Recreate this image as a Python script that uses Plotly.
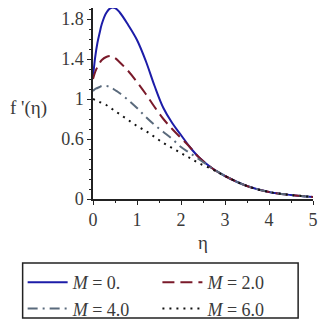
import plotly.graph_objects as go

eta = [0, 0.05, 0.1, 0.15, 0.2, 0.3, 0.4, 0.5, 0.6, 0.8, 1.0, 1.2, 1.4, 1.6, 1.8, 2.0, 2.2, 2.4, 2.7, 3.0, 3.5, 4.0, 4.5, 5.0]
f_M0 = [1.22, 1.42, 1.56, 1.66, 1.75, 1.86, 1.91, 1.91, 1.87, 1.74, 1.59, 1.38, 1.13, 0.91, 0.76, 0.64, 0.52, 0.42, 0.31, 0.23, 0.13, 0.07, 0.04, 0.02]
f_M2 = [1.20, 1.27, 1.32, 1.36, 1.39, 1.42, 1.43, 1.41, 1.37, 1.28, 1.17, 1.05, 0.92, 0.80, 0.70, 0.61, 0.52, 0.42, 0.31, 0.23, 0.13, 0.07, 0.04, 0.02]
f_M4 = [1.08, 1.10, 1.11, 1.12, 1.13, 1.13, 1.12, 1.09, 1.06, 0.99, 0.91, 0.82, 0.74, 0.67, 0.60, 0.52, 0.46, 0.40, 0.31, 0.23, 0.13, 0.07, 0.04, 0.02]
f_M6 = [1.00, 0.99, 0.98, 0.97, 0.96, 0.94, 0.91, 0.88, 0.85, 0.79, 0.73, 0.68, 0.62, 0.56, 0.51, 0.46, 0.41, 0.36, 0.30, 0.23, 0.13, 0.07, 0.04, 0.02]

# (label, values, colour, dash, legend column)
series = [
    ("<i>M</i> = 0.", f_M0, "#1c1ca8", "solid", "legend"),
    ("<i>M</i> = 2.0", f_M2, "#7a1a2a", "12px,6px", "legend2"),
    ("<i>M</i> = 4.0", f_M4, "#5a6a7c", "10px,5px,2px,5px", "legend"),
    ("<i>M</i> = 6.0", f_M6, "#111111", "2px,5px", "legend2"),
]

x_ticks = [0, 1, 2, 3, 4, 5]
y_ticks = [0, 0.6, 1, 1.4, 1.8]
y_ticktext = ["0", "0.6", "1", "1.4", "1.8"]

FONT = "Liberation Serif"
TXT = "#3a3a3a"
W, H = 326, 320
L, R, T, B = 93, 11, 8, 121
PW, PH = W - L - R, H - T - B


def px_x(p):
    return (p - L) / PW


def px_y(p):
    return (H - B - p) / PH


fig = go.Figure()
for name, ys, color, dash, lg in series:
    fig.add_trace(go.Scatter(x=eta, y=ys, mode="lines", name=name, legend=lg,
                             line=dict(color=color, width=2, dash=dash, shape="spline")))

leg_common = dict(orientation="v", xref="paper", yref="container", xanchor="left", yanchor="top",
                  y=1 - 264 / H, bgcolor="rgba(0,0,0,0)", borderwidth=0,
                  font=dict(family=FONT, size=18, color=TXT), itemwidth=40)

fig.update_layout(
    width=W, height=H,
    margin=dict(l=L, r=R, t=T, b=B),
    plot_bgcolor="white", paper_bgcolor="white",
    font=dict(family=FONT, size=18, color=TXT),
    showlegend=True,
    legend=dict(x=px_x(22), **leg_common),
    legend2=dict(x=px_x(158), **leg_common),
)
# legend frame
fig.add_shape(type="rect", xref="paper", yref="paper",
              x0=px_x(22), x1=px_x(300), y0=px_y(318), y1=px_y(263),
              line=dict(color="#222222", width=1.5), fillcolor="rgba(0,0,0,0)", layer="above")

fig.update_xaxes(range=[0, 5], tickvals=x_ticks, showgrid=False, zeroline=False,
                 showline=True, linecolor="#222222", linewidth=1.5,
                 ticks="outside", ticklen=4, tickcolor="#222222",
                 minor=dict(dtick=0.5, tick0=0, ticks="outside", ticklen=2, tickcolor="#222222"),
                 title=dict(text="η", font=dict(family=FONT, size=19, color=TXT), standoff=6))
fig.update_yaxes(range=[0, 1.91], tickvals=y_ticks, ticktext=y_ticktext, showgrid=False, zeroline=False,
                 showline=True, linecolor="#222222", linewidth=1.5,
                 ticks="outside", ticklen=4, tickcolor="#222222",
                 minor=dict(dtick=0.1, tick0=0, ticks="outside", ticklen=2, tickcolor="#222222"))
fig.add_annotation(text="f '(η)", xref="paper", yref="paper", x=px_x(28), y=px_y(108),
                   showarrow=False, xanchor="center", yanchor="middle",
                   font=dict(family=FONT, size=19, color=TXT))

fig.write_html("out.html")
